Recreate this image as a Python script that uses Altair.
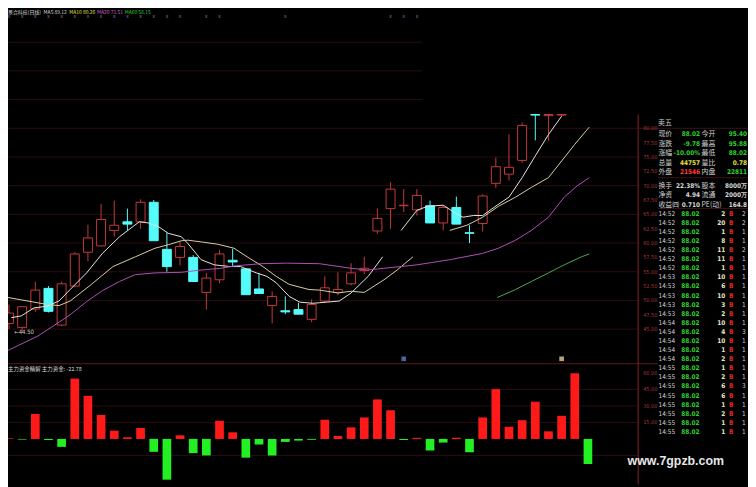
import altair as alt
import pandas as pd

# ---------------- candle data (index k = trading day) ----------------
c_open  = [46.0,45.3,48.5,52.1,45.7,52.5,58.4,59.5,62.2,63.7,63.7,67.1,58.9,57.5,57.5,51.4,53.6,57.0,55.5,52.0,49.1,48.2,48.4,46.7,49.9,51.4,52.9,55.2,62.1,66.0,66.5,65.8,66.5,63.5,66.2,61.8,63.4,70.4,72.0,74.4,82.4,82.2,82.3]
c_high  = [49.3,49.0,53.3,52.5,53.3,58.4,63.2,66.8,67.4,66.0,67.6,67.5,61.8,60.2,57.9,54.8,58.8,59.0,55.6,54.8,51.6,50.7,49.6,50.2,54.2,54.9,56.5,57.6,66.0,70.6,69.4,69.4,67.4,66.6,68.1,63.1,68.5,74.9,78.9,81.0,82.4,82.4,82.4]
c_low   = [45.0,44.5,48.0,47.9,45.5,52.3,56.8,59.4,61.1,62.2,62.5,60.4,55.0,56.1,53.2,48.4,53.0,55.9,51.0,51.2,46.0,47.6,47.6,46.2,49.6,50.9,52.6,54.6,61.6,62.5,65.4,64.8,63.5,62.2,63.3,60.0,62.0,69.6,70.9,74.0,77.9,77.8,82.0]
c_close = [47.8,48.9,51.8,48.1,52.9,58.1,60.9,64.1,63.1,63.3,67.1,60.4,55.9,59.4,53.3,53.9,58.1,56.7,51.0,51.2,50.7,48.0,47.6,49.3,52.2,51.9,54.8,55.6,64.3,69.4,66.6,68.3,63.5,66.2,63.3,61.7,68.2,73.3,73.2,80.5,82.3,82.4,82.4]

# ---------------- moving averages ----------------
ma5_k = [0.18,0.93,1.9,2.9,3.8,4.65,5.9,7.1,8.4,9.9,10.6,11.4,12.1,13.1,13.6,14.6,15.6,16.8,17.6,18.8,19.6,20.3,21.3,22.1,23.1,23.6,25.1,26.0,27.3,28.4,
         29.8,31.0,31.8,33.0,34.0,34.5,35.3,36.0,37.1,38.0,39.0,40.0,41.0,42.0]
ma5_v = [47.0,47.3,48.7,49.0,49.9,51.9,54.8,58.2,61.1,63.7,63.5,62.8,61.7,61.1,59.9,57.1,56.2,55.9,55.9,54.8,54.2,53.1,50.7,49.7,49.5,49.6,49.9,51.3,54.2,57.6,
         62.2,65.7,66.4,66.6,65.1,64.5,64.8,64.8,66.6,68.0,71.4,75.2,78.9,82.1]
ma5_break = 29.0

ma10_k = [-0.3,2.9,3.8,4.65,6.1,7.9,9.6,11.1,12.1,13.1,13.6,14.6,15.85,17.1,18.1,19.3,20.3,21.3,22.8,23.6,25.0,26.0,27.0,28.5,29.5,30.7,
          33.5,34.8,36.0,37.2,38.5,39.7,41.0,42.0,43.0,44.1]
ma10_v = [50.6,49.3,49.1,49.9,52.5,55.9,57.6,59.1,59.7,60.4,60.5,60.2,59.8,59.1,57.6,55.9,54.2,52.8,51.9,51.8,51.3,51.6,51.4,53.6,55.3,57.6,
          62.2,63.1,64.5,66.4,68.0,69.7,71.4,74.3,77.2,80.2]
ma10_break = 32.0

ma20_k = [-0.07,2.2,3.4,4.65,5.9,7.1,8.4,9.6,11.1,13.1,14.6,16.1,17.1,19.1,21.1,23.6,26.0,27.3,28.5,31.0,33.5,36.0,37.2,38.5,39.7,41.0,42.2,43.2,44.1]
ma20_v = [41.3,43.8,45.6,47.5,49.8,51.7,53.3,54.5,54.8,54.9,55.3,55.6,56.0,56.4,56.5,56.4,55.6,55.3,55.6,56.2,57.1,58.2,59.1,60.5,62.2,64.5,68.0,70.0,71.4]

ma60_k = [37.1,38.5,39.7,41.0,42.2,43.5,44.1]
ma60_v = [50.5,51.9,53.3,54.8,56.2,57.6,58.1]

# ---------------- 主力资金 bars ----------------
flow_v = [0.6,-0.6,22.7,-1.0,-7.2,54.8,39.2,21.8,7.5,1.5,9.9,-11.7,-37.0,3.3,-12.9,-15.0,16.5,6.0,-17.0,-5.1,-15.0,-2.7,-1.5,-0.8,17.4,
          2.7,10.5,19.5,35.9,26.0,-1.0,1.0,-10.5,-3.3,1.0,-12.0,19.5,45.2,11.0,17.0,33.8,6.9,21.0,59.6,-22.78]

# ---------------- axis ticks ----------------
price_grid = [45, 50, 55, 60, 65, 70, 75, 80]
price_grid_top = [85, 90, 95]
price_ticks = [80, 77.5, 75, 72.5, 70, 67.5, 65, 62.5, 60, 57.5, 55, 52.5, 50, 47.5, 45]
price_tick_text = ["80.00","77.50","75.00","72.50","70.00","67.50","65.00","62.50","60.00","57.50","55.00","52.50","50.00","47.50","45.00"]
flow_grid = [-15, 15, 30, 45]
flow_ticks = [60, 45, 30, 15]
flow_tick_text = ["60.00","45.00","30.00","15.00"]

# ---------------- top legend / marks ----------------
legend_text = ["景合科技(日线)", "MA5 89.12", "MA10 80.26", "MA20 71.51", "MA60 58.15"]
legend_col = ["w", "w", "y", "m", "g"]
legend_pos = [0, 36, 62, 90, 118]
mark_k = [0,1,2,3,4,5,6,7,8,9,10,11,12,13,15,16,21,29,30,31]
event_k = [30, 42]
event_kind = ["a", "b"]

# ---------------- quote panel ----------------
info_r  = [-8.7, -7.7, -6.65, -5.6, -4.6, -3.05, -2.05, -1.0]
info_l1 = ["现价","涨跌","涨幅","总量","外盘","换手","净资","收益㈣"]
info_v1 = ["88.02","-9.78","-10.00%","44757","21546","22.38%","4.94","0.710"]
info_c1 = ["g","g","g","y","r","w","w","w"]
info_l2 = ["今开","最高","最低","量比","内盘","股本","流通","PE(动)"]
info_v2 = ["95.40","95.88","88.02","0.78","22811","8000万","2000万","164.8"]
info_c2 = ["g","g","g","y","g","w","w","w"]

t_time = ["14:52"]*7 + ["14:53"]*5 + ["14:54"]*5 + ["14:55"]*8
t_price = ["88.02"]*25
t_vol = [2,20,1,8,11,11,1,10,6,10,3,2,10,4,10,1,2,1,2,6,6,1,2,1,1]
t_last = ["2","2","1","1","2","1","1","1","1","1","1","1","1","3","1","1","1","1","1","3","1","1","1","1","1"]

# ================= build =================
BG = "#000000"
GRID = "#2c0c10"
RED = "#c43a3a"
CYAN = "#54fcfc"
NUMFONT = "Liberation Sans Narrow, DejaVu Sans Condensed, Roboto Condensed, Liberation Sans"
CJK = "Noto Sans CJK SC"

xs = alt.Scale(domain=[0, 44], range=[1, 586.2], nice=False, zero=False)
ys_p = alt.Scale(domain=[45, 80], range=[322, 119], nice=False, zero=False)
ys_f = alt.Scale(domain=[0, 60], range=[433, 366.2], nice=False, zero=False)
ys_r = alt.Scale(domain=[0, 24], range=[205.3, 426], nice=False, zero=False)
col_scale = alt.Scale(domain=["w", "y", "m", "g", "r"],
                      range=["#d8d8d8", "#e0e040", "#d060d0", "#30d030", "#ff3838"])
pix = alt.Scale(domain=[0, 748], range=[0, 748])

K = list(range(len(c_open)))
candles = pd.DataFrame({"k": K, "o": c_open, "h": c_high, "l": c_low, "c": c_close})
candles["dir"] = ["up" if c >= o else "down" for o, c in zip(c_open, c_close)]

ma_frames = []
for name, ks, vs, brk in [("MA5", ma5_k, ma5_v, ma5_break), ("MA10", ma10_k, ma10_v, ma10_break),
                          ("MA20", ma20_k, ma20_v, 999), ("MA60", ma60_k, ma60_v, 999)]:
    ma_frames.append(pd.DataFrame({"k": ks, "v": vs, "ma": name,
                                   "seg": [name + ("b" if kk > brk else "a") for kk in ks]}))
ma_df = pd.concat(ma_frames, ignore_index=True)

flow_df = pd.DataFrame({"k": list(range(len(flow_v))), "v": flow_v})
flow_df["s"] = ["pos" if v >= 0 else "neg" for v in flow_v]

layers = []

# grid lines
layers.append(alt.Chart(pd.DataFrame({"p": price_grid})).mark_rule(color=GRID, strokeWidth=1).encode(
    y=alt.Y("p:Q", scale=ys_p, axis=None), x=alt.value(0), x2=alt.value(637)))
layers.append(alt.Chart(pd.DataFrame({"p": price_grid_top})).mark_rule(color=GRID, strokeWidth=1).encode(
    y=alt.Y("p:Q", scale=ys_p, axis=None), x=alt.value(0), x2=alt.value(419)))
layers.append(alt.Chart(pd.DataFrame({"v": flow_grid})).mark_rule(color=GRID, strokeWidth=1).encode(
    y=alt.Y("v:Q", scale=ys_f, axis=None), x=alt.value(0), x2=alt.value(637)))

# separators and frame lines
layers.append(alt.Chart(pd.DataFrame({"a": [0]})).mark_rule(color="#5e1818", strokeWidth=1).encode(
    x=alt.value(0), x2=alt.value(657), y=alt.value(357)))
layers.append(alt.Chart(pd.DataFrame({"a": [0]})).mark_rule(color="#8a2020", strokeWidth=1).encode(
    x=alt.value(637), y=alt.value(105), y2=alt.value(479)))
layers.append(alt.Chart(pd.DataFrame({"y": [119, 169, 200], "x0": [637, 657, 657]})).mark_rule(
    color="#3e1216", strokeWidth=1).encode(
    y=alt.Y("y:Q", scale=alt.Scale(domain=[0, 479], range=[0, 479]), axis=None),
    x=alt.X("x0:Q", scale=pix, axis=None), x2=alt.value(748)))

# candles: wicks then bodies
layers.append(alt.Chart(candles).mark_rule(strokeWidth=1).encode(
    x=alt.X("k:Q", scale=xs, axis=None),
    y=alt.Y("l:Q", scale=ys_p, axis=None), y2="h:Q",
    color=alt.Color("dir:N", scale=alt.Scale(domain=["up", "down"], range=[RED, CYAN]), legend=None)))
layers.append(alt.Chart(candles).transform_calculate(
    kl="datum.k - 0.34", kr="datum.k + 0.34").mark_rect(strokeWidth=1).encode(
    x=alt.X("kl:Q", scale=xs, axis=None), x2="kr:Q",
    y=alt.Y("o:Q", scale=ys_p, axis=None), y2="c:Q",
    fill=alt.Fill("dir:N", scale=alt.Scale(domain=["up", "down"], range=[BG, CYAN]), legend=None),
    stroke=alt.Stroke("dir:N", scale=alt.Scale(domain=["up", "down"], range=[RED, CYAN]), legend=None)))

# moving averages
layers.append(alt.Chart(ma_df).mark_line(strokeWidth=1, interpolate="linear").encode(
    x=alt.X("k:Q", scale=xs, axis=None),
    y=alt.Y("v:Q", scale=ys_p, axis=None),
    color=alt.Color("ma:N", scale=alt.Scale(domain=["MA5", "MA10", "MA20", "MA60"],
                                            range=["#e6e6de", "#d8cfa0", "#b050b8", "#4ea64e"]), legend=None),
    detail="seg:N", order="k:Q"))

# low annotation
layers.append(alt.Chart(pd.DataFrame({"k": [1], "p": [44.5], "t": ["←44.50"]})).mark_text(
    align="left", baseline="middle", fontSize=6, color="#d0d0d0", font=NUMFONT, dx=-8).encode(
    x=alt.X("k:Q", scale=xs, axis=None), y=alt.Y("p:Q", scale=ys_p, axis=None), text="t:N"))

# flow bars
layers.append(alt.Chart(flow_df).transform_calculate(
    kl="datum.k - 0.33", kr="datum.k + 0.33", z="0").mark_rect().encode(
    x=alt.X("kl:Q", scale=xs, axis=None), x2="kr:Q",
    y=alt.Y("z:Q", scale=ys_f, axis=None), y2="v:Q",
    color=alt.Color("s:N", scale=alt.Scale(domain=["pos", "neg"], range=["#ff1a1a", "#22f022"]), legend=None)))

# event markers
layers.append(alt.Chart(pd.DataFrame({"k": event_k, "e": event_kind})).mark_square(size=22, opacity=0.9).encode(
    x=alt.X("k:Q", scale=xs, axis=None), y=alt.value(352),
    color=alt.Color("e:N", scale=alt.Scale(domain=["a", "b"], range=["#5070b0", "#c8b888"]), legend=None)))

# right axis labels
layers.append(alt.Chart(pd.DataFrame({"p": price_ticks, "t": price_tick_text})).mark_text(
    align="left", baseline="middle", fontSize=5.6, color="#a83434", font=NUMFONT).encode(
    x=alt.value(642), y=alt.Y("p:Q", scale=ys_p, axis=None), text="t:N"))
layers.append(alt.Chart(pd.DataFrame({"v": flow_ticks, "t": flow_tick_text})).mark_text(
    align="left", baseline="middle", fontSize=5.6, color="#a83434", font=NUMFONT).encode(
    x=alt.value(642), y=alt.Y("v:Q", scale=ys_f, axis=None), text="t:N"))

# top legend
layers.append(alt.Chart(pd.DataFrame({"t": legend_text, "c": legend_col, "x": legend_pos})).mark_text(
    align="left", baseline="top", fontSize=5, font=CJK).encode(
    x=alt.X("x:Q", scale=pix, axis=None), y=alt.value(-1),
    text="t:N", color=alt.Color("c:N", scale=col_scale, legend=None)))
layers.append(alt.Chart(pd.DataFrame({"k": mark_k})).mark_text(
    text="x", fontSize=5, color="#a868c0", baseline="middle").encode(
    x=alt.X("k:Q", scale=xs, axis=None), y=alt.value(6)))

# bottom panel title
layers.append(alt.Chart(pd.DataFrame({"t": ["主力资金精解  主力资金: -22.78"]})).mark_text(
    align="left", baseline="middle", fontSize=5.5, color="#d8d8d8", font=CJK).encode(
    x=alt.value(0), y=alt.value(362), text="t:N"))

# quote panel
info = pd.DataFrame({"r": info_r, "l1": info_l1, "v1": info_v1, "c1": info_c1,
                     "l2": info_l2, "v2": info_v2, "c2": info_c2})
layers.append(alt.Chart(pd.DataFrame({"r": [-10.0], "t": ["卖五"]})).mark_text(
    align="left", baseline="middle", fontSize=7, color="#d0d0d0", font=CJK).encode(
    x=alt.value(657), y=alt.Y("r:Q", scale=ys_r, axis=None), text="t:N"))
layers.append(alt.Chart(info).mark_text(align="left", baseline="middle", fontSize=7, color="#d0d0d0", font=CJK).encode(
    x=alt.value(657.5), y=alt.Y("r:Q", scale=ys_r, axis=None), text="l1:N"))
layers.append(alt.Chart(info).mark_text(align="left", baseline="middle", fontSize=7, color="#d0d0d0", font=CJK).encode(
    x=alt.value(701), y=alt.Y("r:Q", scale=ys_r, axis=None), text="l2:N"))
layers.append(alt.Chart(info).mark_text(align="right", baseline="middle", fontSize=6.5, font=NUMFONT, fontWeight="bold").encode(
    x=alt.value(699.5), y=alt.Y("r:Q", scale=ys_r, axis=None), text="v1:N",
    color=alt.Color("c1:N", scale=col_scale, legend=None)))
layers.append(alt.Chart(info).mark_text(align="right", baseline="middle", fontSize=6.5, font=NUMFONT, fontWeight="bold").encode(
    x=alt.value(747), y=alt.Y("r:Q", scale=ys_r, axis=None), text="v2:N",
    color=alt.Color("c2:N", scale=col_scale, legend=None)))

trades = pd.DataFrame({"r": list(range(len(t_time))), "t": t_time, "p": t_price,
                       "v": [str(v) for v in t_vol], "last": t_last})
layers.append(alt.Chart(trades).mark_text(align="left", baseline="middle", fontSize=6.5, color="#d0d0d0", font=NUMFONT).encode(
    x=alt.value(657.5), y=alt.Y("r:Q", scale=ys_r, axis=None), text="t:N"))
layers.append(alt.Chart(trades).mark_text(align="right", baseline="middle", fontSize=6.5, color="#30d030", font=NUMFONT, fontWeight="bold").encode(
    x=alt.value(699), y=alt.Y("r:Q", scale=ys_r, axis=None), text="p:N"))
layers.append(alt.Chart(trades).mark_text(align="right", baseline="middle", fontSize=6.5, color="#e8e8c8", font=NUMFONT, fontWeight="bold").encode(
    x=alt.value(725), y=alt.Y("r:Q", scale=ys_r, axis=None), text="v:N"))
layers.append(alt.Chart(trades).mark_text(text="B", align="center", baseline="middle", fontSize=6.5, color="#e02828", font=NUMFONT, fontWeight="bold").encode(
    x=alt.value(731), y=alt.Y("r:Q", scale=ys_r, axis=None)))
layers.append(alt.Chart(trades).mark_text(align="left", baseline="middle", fontSize=6.5, color="#d0d0d0", font=NUMFONT).encode(
    x=alt.value(742), y=alt.Y("r:Q", scale=ys_r, axis=None), text="last:N"))

# watermark
layers.append(alt.Chart(pd.DataFrame({"t": ["www.7gpzb.com"]})).mark_text(
    align="center", baseline="middle", fontSize=12.5, fontWeight="bold", color="#e6e6e6",
    font="Liberation Sans").encode(x=alt.value(675), y=alt.value(455), text="t:N"))

chart = alt.layer(*layers).resolve_scale(
    x="independent", y="independent", color="independent", fill="independent", stroke="independent"
).properties(
    width=748, height=479, padding=0, autosize=alt.AutoSizeParams(type="none"),
    background=BG
).configure_view(stroke=None, fill=BG)

chart.save("out.html", embed_options={"renderer": "svg", "actions": False})
